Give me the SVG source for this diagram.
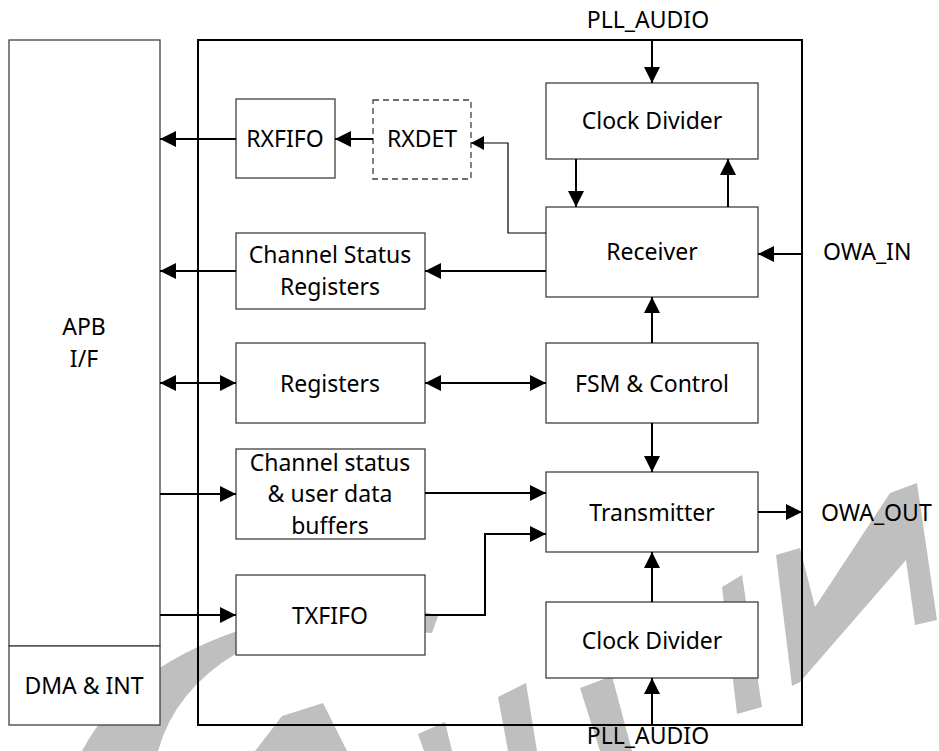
<svg xmlns="http://www.w3.org/2000/svg" width="939" height="751" viewBox="0 0 939 751">
<style>
.box{fill:#fff;stroke:#404040;stroke-width:1.3}
.dash{fill:#fff;stroke:#404040;stroke-width:1.3;stroke-dasharray:6,4}
.outer{fill:none;stroke:#000;stroke-width:2}
.t{font-family:"Noto Sans","Open Sans",sans-serif;font-size:23px;fill:#000;text-anchor:middle}
.ts{font-family:"Noto Sans","Open Sans",sans-serif;font-size:23px;fill:#000}
.c{fill:none;stroke:#000;stroke-width:2}
.cthin{fill:none;stroke:#000;stroke-width:1.2}
.wm{fill:#bfbfbf}
</style>
<defs>
<marker id="ah" markerUnits="userSpaceOnUse" markerWidth="16" markerHeight="16" refX="16" refY="8" orient="auto-start-reverse" viewBox="0 0 16 16">
<path d="M0,0 L16,8 L0,16 z" fill="#000"/>
</marker>
<marker id="ahs" markerUnits="userSpaceOnUse" markerWidth="13" markerHeight="14" refX="13" refY="7" orient="auto" viewBox="0 0 13 14">
<path d="M0,0 L13,7 L0,14 z" fill="#000"/>
</marker>
</defs>
<rect width="939" height="751" fill="#fff"/>
<g id="watermark">
<path class="wm" d="M82,751 Q140,640 330,608 Q400,602 438,616 L432,633 Q300,625 237,653 Q175,690 158,751 Z"/>
<polygon class="wm" points="255,751 282,716 323,703 347,751"/>
<polygon class="wm" points="418,734 445,722 452,751 424,751"/>
<polygon class="wm" points="498,697 526,683 537,751 508,751"/>
<polygon class="wm" points="580,688 612,676 632,751 600,751"/>
<polygon class="wm" points="722,587 742,575 762,707 737,714"/>
<polygon class="wm" points="776,555 800,548 815,607 890,493 917,483 937,620 915,625 906,560 800,682 792,686"/>
</g>
<g id="outer-block"><rect class="outer" x="198" y="40" width="604" height="685"/></g>
<g id="apb">
<rect class="box" x="9" y="40" width="151" height="606"/>
<text class="t" x="84" y="335">APB</text>
<text class="t" x="84" y="367">I/F</text>
</g>
<g id="dma">
<rect class="box" x="9" y="646" width="151" height="79"/>
<text class="t" x="84" y="694">DMA &amp; INT</text>
</g>
<g id="rxfifo"><rect class="box" x="236" y="99" width="99" height="79"/><text class="t" x="285" y="147">RXFIFO</text></g>
<g id="rxdet"><rect class="dash" x="373" y="100" width="98" height="79"/><text class="t" x="422" y="147">RXDET</text></g>
<g id="csr"><rect class="box" x="236" y="233" width="189" height="76"/><text class="t" x="330" y="263">Channel Status</text><text class="t" x="330" y="295">Registers</text></g>
<g id="registers"><rect class="box" x="236" y="343" width="189" height="80"/><text class="t" x="330" y="392">Registers</text></g>
<g id="csbuf"><rect class="box" x="236" y="449" width="189" height="90"/><text class="t" x="330" y="471">Channel status</text><text class="t" x="330" y="502">&amp; user data</text><text class="t" x="330" y="534">buffers</text></g>
<g id="txfifo"><rect class="box" x="236" y="575" width="189" height="80"/><text class="t" x="330" y="624">TXFIFO</text></g>
<g id="clkdiv-rx"><rect class="box" x="546" y="83" width="212" height="76"/><text class="t" x="652" y="129">Clock Divider</text></g>
<g id="receiver"><rect class="box" x="546" y="207" width="212" height="90"/><text class="t" x="652" y="260">Receiver</text></g>
<g id="fsm"><rect class="box" x="546" y="343" width="212" height="80"/><text class="t" x="652" y="392">FSM &amp; Control</text></g>
<g id="transmitter"><rect class="box" x="546" y="472" width="212" height="80"/><text class="t" x="652" y="521">Transmitter</text></g>
<g id="clkdiv-tx"><rect class="box" x="546" y="602" width="212" height="76"/><text class="t" x="652" y="649">Clock Divider</text></g>
<g id="labels">
<text class="t" x="648" y="28">PLL_AUDIO</text>
<text class="t" x="648" y="744">PLL_AUDIO</text>
<text class="ts" x="823" y="260">OWA_IN</text>
<text class="ts" x="821" y="521">OWA_OUT</text>
</g>
<g id="connectors">
<line class="c" x1="652" y1="40" x2="652" y2="83" marker-end="url(#ah)"/>
<line class="c" x1="576" y1="159" x2="576" y2="207" marker-end="url(#ah)"/>
<line class="c" x1="728" y1="207" x2="728" y2="159" marker-end="url(#ah)"/>
<line class="c" x1="802" y1="254" x2="758" y2="254" marker-end="url(#ah)"/>
<polyline class="cthin" points="546,233 508,233 508,143 471,143" marker-end="url(#ahs)"/>
<line class="c" x1="373" y1="139" x2="335" y2="139" marker-end="url(#ah)"/>
<line class="c" x1="236" y1="139" x2="160" y2="139" marker-end="url(#ah)"/>
<line class="c" x1="546" y1="271" x2="425" y2="271" marker-end="url(#ah)"/>
<line class="c" x1="236" y1="271" x2="160" y2="271" marker-end="url(#ah)"/>
<line class="c" x1="160" y1="383" x2="236" y2="383" marker-start="url(#ah)" marker-end="url(#ah)"/>
<line class="c" x1="425" y1="383" x2="546" y2="383" marker-start="url(#ah)" marker-end="url(#ah)"/>
<line class="c" x1="652" y1="343" x2="652" y2="297" marker-end="url(#ah)"/>
<line class="c" x1="652" y1="423" x2="652" y2="472" marker-end="url(#ah)"/>
<line class="c" x1="160" y1="494" x2="236" y2="494" marker-end="url(#ah)"/>
<line class="c" x1="425" y1="493" x2="546" y2="493" marker-end="url(#ah)"/>
<polyline class="c" points="425,615 485,615 485,534 546,534" marker-end="url(#ah)"/>
<line class="c" x1="160" y1="615" x2="236" y2="615" marker-end="url(#ah)"/>
<line class="c" x1="652" y1="602" x2="652" y2="552" marker-end="url(#ah)"/>
<line class="c" x1="652" y1="725" x2="652" y2="678" marker-end="url(#ah)"/>
<line class="c" x1="758" y1="512" x2="802" y2="512" marker-end="url(#ah)"/>
</g>
</svg>
